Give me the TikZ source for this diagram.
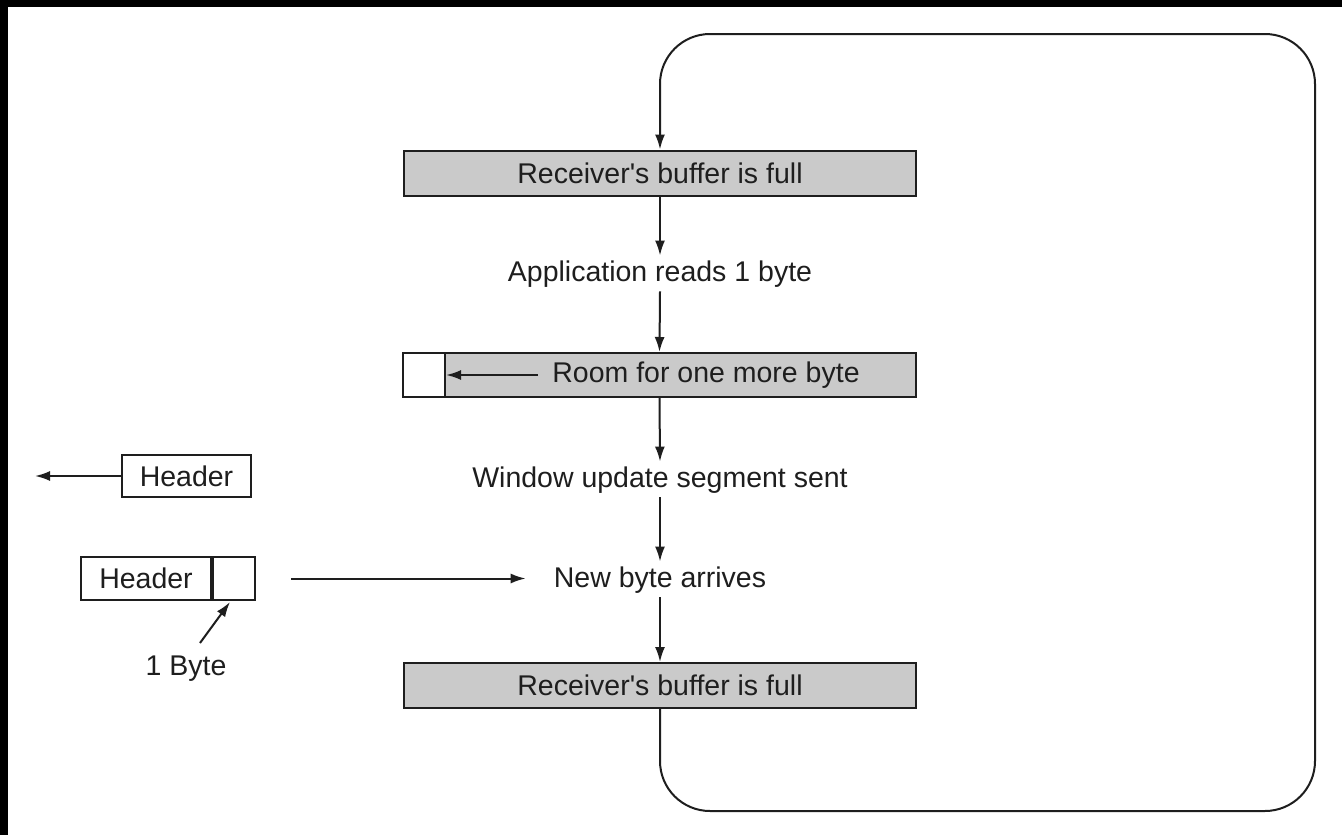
\documentclass[tikz,border=0pt]{standalone}
\usepackage{fontspec}
\setmainfont{Liberation Sans}[Ligatures=TeXOff]
\usetikzlibrary{arrows.meta,calc}
\definecolor{bufgray}{RGB}{202,202,202}
\definecolor{ink}{RGB}{30,30,30}
\begin{document}
\begin{tikzpicture}[x=1pt,y=-1pt,
  every node/.style={font=\fontsize{28.5}{32}\selectfont, text=ink},
  line/.style={draw=ink, line width=2pt},
  arr/.style={line, -{Latex[length=15pt,width=10pt]}},
  buffer/.style={line, fill=bufgray, minimum width=512pt, minimum height=45pt, inner sep=0pt, anchor=center},
  cell/.style={line, fill=white, minimum width=42pt, inner sep=0pt},
  label/.style={inner sep=0pt, text height=20.5pt, text depth=6pt}
]
% page and dark frame strips
\useasboundingbox (0,0) rectangle (1342,835);
\fill[white] (0,0) rectangle (1342,835);
\fill[black] (0,0) rectangle (8,835);
\fill[black] (0,0) rectangle (1342,7);

% main flow
\node[buffer] (full1) at (660,173) {Receiver's buffer is full};
\node[label] (read) at (660,274) {Application reads 1 byte};
\node[buffer, minimum width=513pt, minimum height=44pt] (room) at (659.5,375) {};
\node[cell, minimum height=44pt, anchor=west] (slot) at (room.west) {};
\node[label] (roomtxt) at (706,375) {Room for one more byte};
\node[label] (upd) at (660,480) {Window update segment sent};
\node[label] (newb) at (660,580) {New byte arrives};
\node[buffer] (full2) at (660,685.5) {Receiver's buffer is full};

\draw[arr] (full1.south) -- ($(read.north)+(0,-5)$);
\draw[arr] ($(read.south)+(0,4)$) -- (room.north);
\draw[arr] ($(roomtxt.west)+(-14,0)$) -- (slot.east);
\draw[arr] (room.south) -- ($(upd.north)+(0,-5)$);
\draw[arr] ($(upd.south)+(0,4)$) -- ($(newb.north)+(0,-5)$);
\draw[arr] ($(newb.south)+(0,4)$) -- (full2.north);

% feedback loop around the right side
\coordinate (lb) at (660,811);
\coordinate (rb) at (1315,811);
\coordinate (rt) at (1315,34);
\coordinate (lt) at (660,34);
\draw[arr, rounded corners=50pt] (full2.south) -- (lb) -- (rb) -- (rt) -- (lt) -- (full1.north);

% segments on the left
\node[line, minimum width=129pt, minimum height=42pt, inner sep=0pt] (hdr1) at (186.5,476) {Header};
\coordinate (away) at (35,476);
\draw[arr] (hdr1.west) -- (away);

\node[line, minimum width=130pt, minimum height=43pt, inner sep=0pt] (hdr2) at (146,578.5) {Header};
\node[cell, minimum height=43pt, anchor=west] (byte) at (hdr2.east) {};
\draw[arr, shorten <=35pt] (byte.east) -- ($(byte.east -| newb.west)+(-28,0)$);

\node[label] (onebyte) at (186,668) {1 Byte};
\coordinate (tail) at (200,643);
\draw[arr] (tail) -- ($(byte.south)+(-4,1)$);
\end{tikzpicture}
\end{document}
